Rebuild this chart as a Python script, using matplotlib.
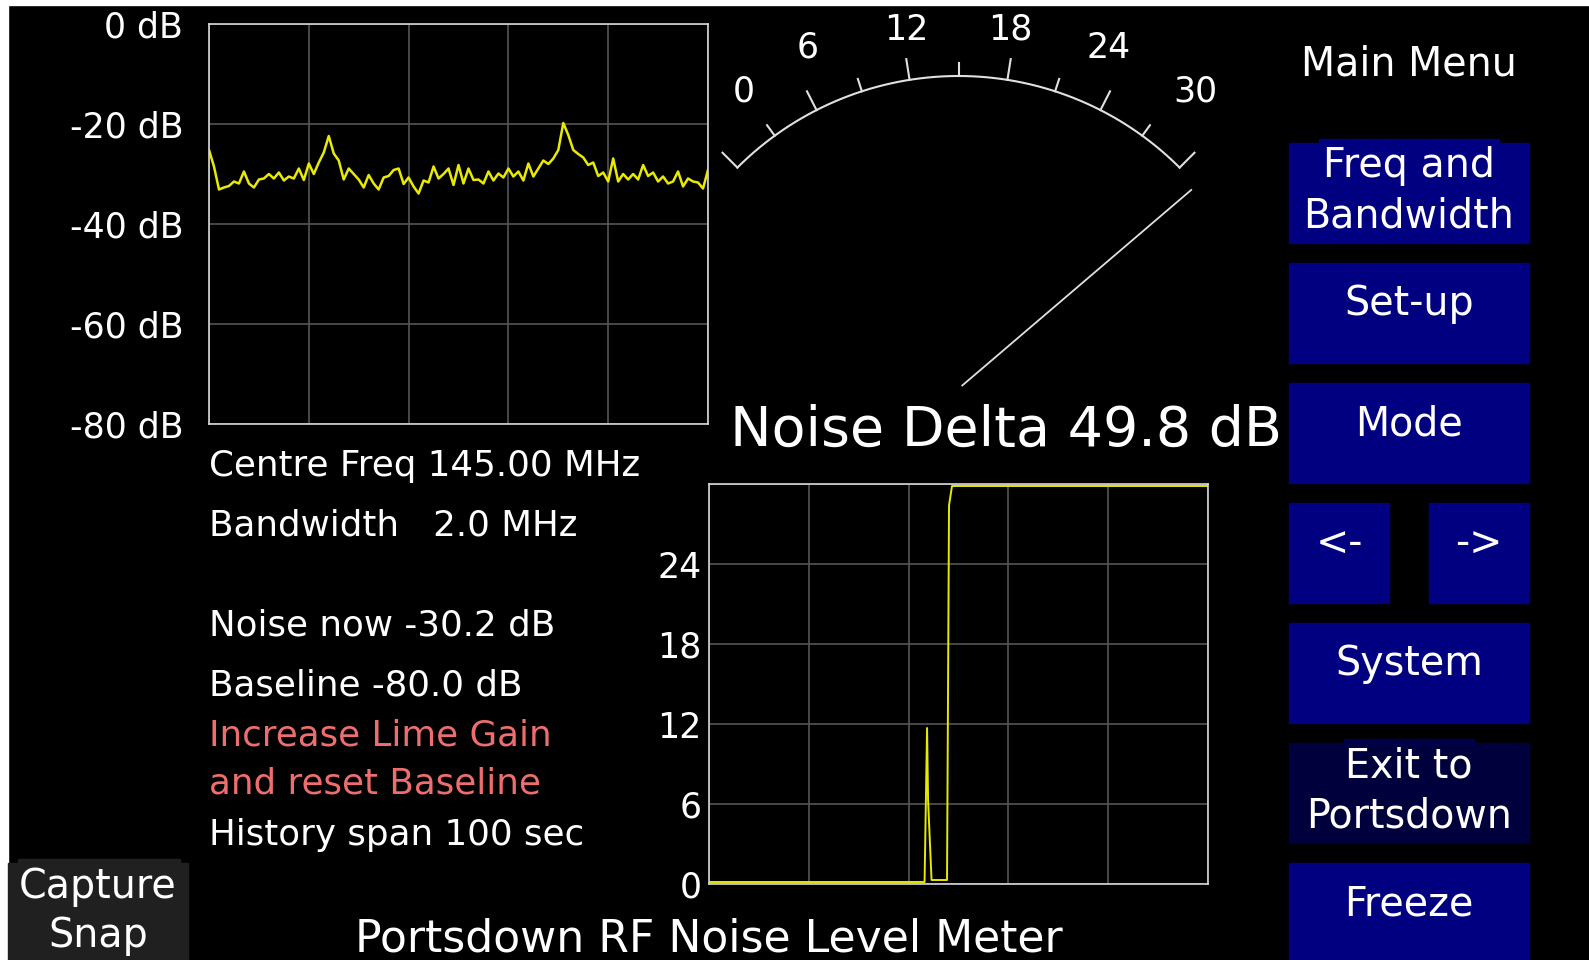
import numpy as np
import matplotlib.pyplot as plt
from matplotlib.patches import Rectangle

# spectrum trace (dB), evenly spread over the displayed bandwidth
spec_db = [-25.2, -28.5, -33.1, -32.7, -32.4, -31.5, -31.9, -29.5, -31.9, -32.7,
           -31.1, -30.9, -30.0, -30.9, -29.7, -31.3, -30.5, -30.9, -28.9, -31.2,
           -27.9, -30.0, -27.7, -25.7, -22.4, -25.9, -27.3, -31.1, -28.9, -30.0,
           -31.1, -32.7, -30.2, -31.9, -33.1, -30.7, -30.4, -29.2, -28.9, -32.0,
           -30.7, -32.5, -33.9, -31.3, -31.7, -28.5, -30.9, -30.0, -28.9, -32.2,
           -28.2, -31.9, -28.9, -31.2, -31.1, -31.9, -29.5, -31.3, -29.9, -30.7,
           -28.9, -30.5, -29.5, -31.3, -27.9, -30.5, -28.9, -27.3, -28.0, -26.9,
           -25.2, -19.8, -22.2, -25.2, -26.0, -26.7, -28.2, -27.7, -30.4, -29.7,
           -31.5, -26.9, -31.5, -30.0, -31.1, -30.0, -31.1, -28.2, -30.4, -29.7,
           -31.5, -30.5, -31.9, -31.5, -29.5, -32.5, -30.9, -31.5, -31.7, -32.9,
           -29.2]

centre_freq = 145.00
bandwidth = 2.0
noise_now = -30.2
baseline = -80.0
noise_delta = 49.8
history_span = 100
meter_peg = 31.5          # needle stops just past full scale

db_ticks = [0, -20, -40, -60, -80]
meter_labels = [0, 6, 12, 18, 24, 30]
hist_ticks = [0, 6, 12, 18, 24, 30]

# noise delta history (seconds, dB)
hist_t = [0, 43.2, 43.7, 43.9, 44.6, 47.7, 48.1, 48.7, 100]
hist_v = [0.15, 0.15, 11.7, 6.3, 0.3, 0.3, 28.4, 29.85, 29.85]

menu_labels = ["Freq and\nBandwidth", "Set-up", "Mode", "<-|->",
               "System", "Exit to\nPortsdown", "Freeze"]

info_lines = [f"Centre Freq {centre_freq:.2f} MHz",
              f"Bandwidth   {bandwidth:.1f} MHz",
              f"Noise now {noise_now:.1f} dB",
              f"Baseline {baseline:.1f} dB",
              "Increase Lime Gain",
              "and reset Baseline",
              f"History span {history_span} sec"]
info_colors = ['white', 'white', 'white', 'white', '#ee6e6e', '#ee6e6e', 'white']

W, H = 1589, 960
fig = plt.figure(figsize=(W / 100, H / 100), dpi=100, facecolor='black')

bg = fig.add_axes([0, 0, 1, 1])
bg.set_xlim(0, W)
bg.set_ylim(H, 0)
bg.axis('off')
bg.add_patch(Rectangle((0, 0), W, 5, color='white'))
bg.add_patch(Rectangle((0, 0), 8, H, color='white'))


def place(x, y, w, h):
    return fig.add_axes([x / W, 1 - (y + h) / H, w / W, h / H])


def style(ax):
    ax.set_facecolor('black')
    for s in ax.spines.values():
        s.set_color('#d8d8d8')
        s.set_linewidth(1.2)
    ax.grid(True, color='#555555', linewidth=1.2)
    ax.tick_params(length=0, colors='white')


# spectrum
ax1 = place(209, 24, 499, 400)
style(ax1)
spec_freq = np.linspace(centre_freq - bandwidth / 2, centre_freq + bandwidth / 2, len(spec_db))
ax1.plot(spec_freq, spec_db, color='#eaea00', lw=1.8)
ax1.set_xlim(centre_freq - bandwidth / 2, centre_freq + bandwidth / 2)
ax1.set_ylim(-80, 0)
ax1.set_xticks(np.linspace(centre_freq - bandwidth / 2, centre_freq + bandwidth / 2, 6))
ax1.set_xticklabels([])
ax1.set_yticks(db_ticks)
ax1.set_yticklabels([f"{d} dB" for d in db_ticks], fontsize=25, color='white')
ax1.tick_params(axis='y', pad=18.5)

# history
ax2 = place(709, 484, 499, 400)
style(ax2)
ax2.plot(hist_t, hist_v, color='#e8e800', lw=1.4)
ax2.set_xlim(0, history_span)
ax2.set_ylim(0, 30)
ax2.set_xticks(np.arange(0, history_span + 1, 20))
ax2.set_xticklabels([])
ax2.set_yticks(hist_ticks)
ax2.set_yticklabels([str(t) if t < 30 else '' for t in hist_ticks], fontsize=25, color='white')
ax2.tick_params(axis='y', pad=5.5)

# analogue meter
cx, cy, R = 958.5, 388.7, 312.7


def meter_xy(val, r):
    a = np.radians(val / 30 * 90 - 45)
    return cx + r * np.sin(a), cy - r * np.cos(a)


arc_v = np.linspace(0, 30, 200)
ax_, ay_ = meter_xy(arc_v, R)
bg.plot(ax_, ay_, color='#e0e0e0', lw=1.5)
for v in np.arange(0, 31, 3):
    ln = 21 if v % 6 == 0 else 13
    x0, y0 = meter_xy(v, R)
    x1, y1 = meter_xy(v, R + ln)
    bg.plot([x0, x1], [y0, y1], color='#e0e0e0', lw=1.5)
for v in meter_labels:
    a = v / 30 * 90 - 45
    th = np.radians((0.92 - 0.0024 * abs(a)) * a)
    off = 23.5 - 0.0087 * a ** 2
    lx = cx + 370 * np.sin(th) - off
    ry = 357.7 + 0.967 * abs(a) - 0.01404 * a ** 2
    ly = cy - ry * np.cos(th)
    bg.text(lx, ly + 12.7, str(v), fontsize=25, color='white', ha='left', va='baseline')
needle = min(noise_delta, meter_peg)
nx0, ny0 = meter_xy(needle, 5)
nx1, ny1 = meter_xy(needle, 306)
bg.plot([nx0, nx1], [ny0, ny1], color='#e0e0e0', lw=1.3)

bg.text(730, 446, f"Noise Delta {noise_delta:.1f} dB", fontsize=40, color='white',
        ha='left', va='baseline')

for line, col, yb in zip(info_lines, info_colors, [476, 536, 635, 696, 745, 793, 845]):
    bg.text(209, yb, line, fontsize=25.7, color=col, ha='left', va='baseline')

bg.text(708.5, 952, "Portsdown RF Noise Level Meter", fontsize=31.8, color='white',
        ha='center', va='baseline')

# menu
bfs = 28.5
bg.text(1409, 76, "Main Menu", fontsize=bfs, color='white', ha='center', va='baseline')
for i, lab in enumerate(menu_labels):
    top = 143 + 120 * i
    col = '#00003c' if lab.startswith("Exit") else '#000080'
    if lab == "<-|->":
        for bx, t in zip([1289, 1429], lab.split('|')):
            bg.add_patch(Rectangle((bx, top), 100, 100, color=col))
            bg.text(bx + 50, top + 52, t, fontsize=bfs, color='white', ha='center', va='baseline')
        continue
    bg.add_patch(Rectangle((1289, top), 240, 100, color=col))
    parts = lab.split('\n')
    if len(parts) == 1:
        bg.text(1409, top + 52, lab, fontsize=bfs, color='white', ha='center', va='baseline')
    else:
        bumpc = '#000048' if lab.startswith("Exit") else col
        bw = 130 if lab.startswith("Exit") else 180
        bg.add_patch(Rectangle((1409 - bw / 2, top - 4), bw, 5, color=bumpc))
        bg.text(1409, top + 34, parts[0], fontsize=bfs, color='white', ha='center', va='baseline')
        bg.text(1409, top + 84, parts[1], fontsize=bfs, color='white', ha='center', va='baseline')

# capture button
bg.add_patch(Rectangle((8, 863), 180, 97, color='#202020'))
bg.add_patch(Rectangle((18, 859), 162, 5, color='#202020'))
bg.text(98, 898, "Capture", fontsize=bfs, color='white', ha='center', va='baseline')
bg.text(98, 947, "Snap", fontsize=bfs, color='white', ha='center', va='baseline')

fig.savefig('out.png', dpi=100, facecolor='black')
